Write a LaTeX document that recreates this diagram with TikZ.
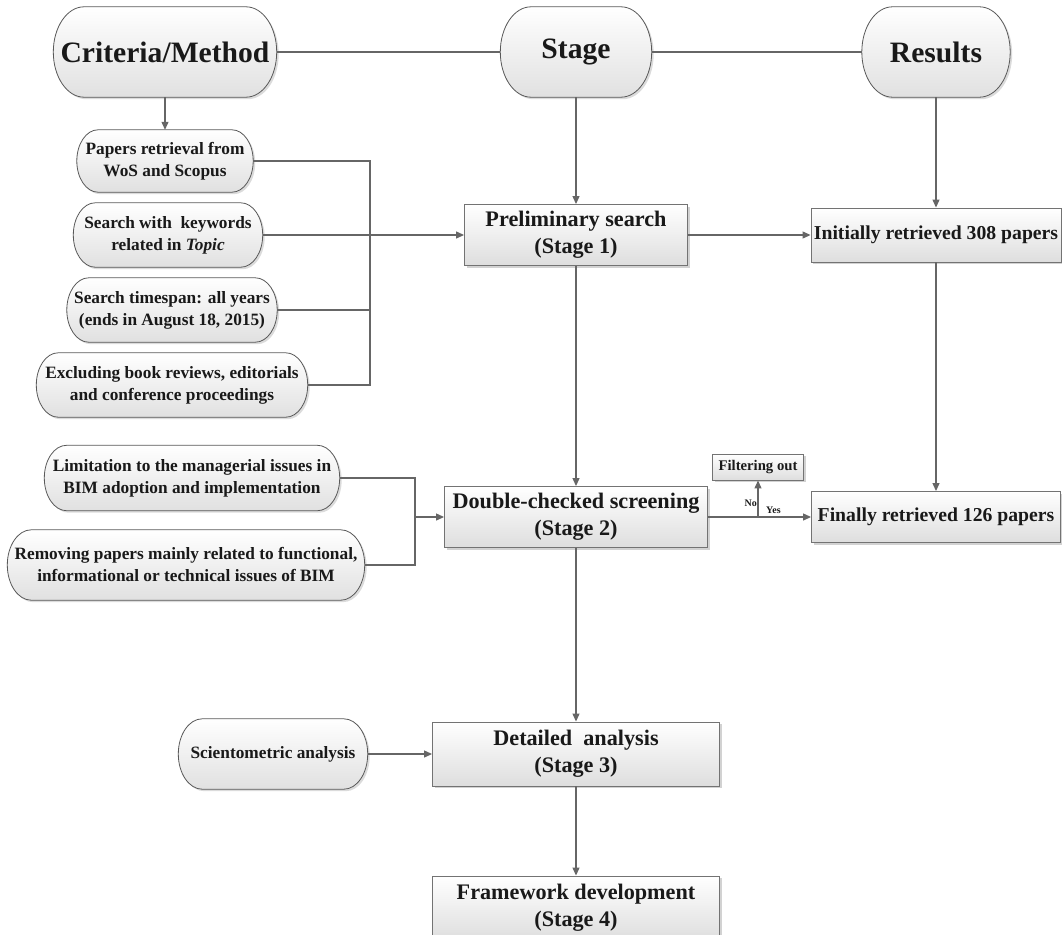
\documentclass[tikz,border=0pt]{standalone}
\usepackage{fontspec}
\setmainfont{Liberation Serif}
\usetikzlibrary{arrows.meta,calc,shadows,backgrounds,positioning}

\newcommand\fHead{\fontsize{29.6}{34}\selectfont\bfseries}
\newcommand\fStage{\fontsize{22.2}{27}\selectfont\bfseries}
\newcommand\fRes{\fontsize{19.7}{24}\selectfont\bfseries}
\newcommand\fCrit{\fontsize{17.3}{22}\selectfont\bfseries}
\newcommand\fFilt{\fontsize{14.7}{17}\selectfont\bfseries}
\newcommand\fTag{\fontsize{10}{12}\selectfont\bfseries}

\tikzset{
  box/.style={draw=black!55, line width=0.9pt, top color=white, bottom color=black!13,
    drop shadow={shadow xshift=2pt, shadow yshift=-2pt, fill=black!35, opacity=0.5},
    align=center, text=black!90, inner sep=1pt},
  pill/.style={align=center, text=black!90, inner xsep=0pt, inner ysep=1pt, font=\fCrit},
  pillbg/.style={draw=black!65, line width=0.8pt, top color=white, bottom color=black!12,
    drop shadow={shadow xshift=2pt, shadow yshift=-2pt, fill=black!35, opacity=0.4}},
  link/.style={draw=black!60, line width=1.2pt},
  arr/.style={link, -{Triangle[length=8pt,width=7pt]}},
  tag/.style={font=\fTag, text=black!90, inner sep=0pt}
}

% stadium outline behind a node (elliptic ends)
\newcommand\pillframe[1]{%
  \begin{pgfonlayer}{background}
  \path let \p1=(#1.north), \p2=(#1.south), \n1={(\y1-\y2)/2}, \n2={0.68*\n1} in
    [pillbg] ([xshift=\n2]#1.north west) -- ([xshift=-\n2]#1.north east)
    arc[start angle=90, end angle=-90, x radius=\n2, y radius=\n1]
    -- ([xshift=\n2]#1.south west)
    arc[start angle=270, end angle=90, x radius=\n2, y radius=\n1] -- cycle;
  \end{pgfonlayer}}

\begin{document}
\begin{tikzpicture}[x=1pt, y=1pt]
\useasboundingbox (0,0) rectangle (1062,-934);
\clip (0,0) rectangle (1062,-934);

% Column heads
\node[pill, font=\fHead, minimum width=223pt, minimum height=90pt] (crit) at (165,-52) {Criteria/Method};
\node[pill, font=\fHead, minimum width=151pt, minimum height=90pt] (stg) at (576,-52) {Stage};
\node[pill, font=\fHead, minimum width=148pt, minimum height=90pt] (res) at (936,-52) {Results};
\pillframe{crit}\pillframe{stg}\pillframe{res}

% Criteria for stage 1
\node[pill, minimum width=176pt, minimum height=62pt] (m1) at (165,-161) {Papers retrieval from\\WoS and Scopus};
\node[pill, minimum width=189pt, minimum height=64pt] (m2) at (168,-235) {Search with~ keywords\\related in \textit{Topic}};
\node[pill, minimum width=210pt, minimum height=64pt] (m3) at (172,-310) {Search timespan: all years\\(ends in August 18, 2015)};
\node[pill, minimum width=271pt, minimum height=64pt] (m4) at (172,-385) {Excluding book reviews, editorials\\and conference proceedings};
\pillframe{m1}\pillframe{m2}\pillframe{m3}\pillframe{m4}

% Criteria for stage 2 and 3
\node[pill, minimum width=295pt, minimum height=65pt] (m5) at (192,-478) {Limitation to the managerial issues in\\BIM adoption and implementation};
\node[pill, minimum width=357pt, minimum height=70pt] (m6) at (186,-565) {Removing papers mainly related to functional,\\informational or technical issues of BIM};
\node[pill, minimum width=189pt, minimum height=70pt] (sci) at (273,-754) {Scientometric analysis};
\pillframe{m5}\pillframe{m6}\pillframe{sci}

% Stages
\node[box, font=\fStage, minimum width=223pt, minimum height=61pt] (s1) at (576,-235) {Preliminary search\\(Stage 1)};
\node[box, font=\fStage, minimum width=263pt, minimum height=61pt] (s2) at (576,-517) {Double-checked screening\\(Stage 2)};
\node[box, font=\fStage, minimum width=287pt, minimum height=64pt] (s3) at (576,-754) {Detailed~ analysis\\(Stage 3)};
\node[box, font=\fStage, minimum width=287pt, minimum height=64pt] (s4) at (576,-908) {Framework development\\(Stage 4)};

% Results
\node[box, font=\fRes, minimum width=250pt, minimum height=54pt] (r1) at (936,-235) {Initially retrieved 308 papers};
\node[box, font=\fRes, minimum width=249pt, minimum height=51pt] (r2) at (936,-517) {Finally retrieved 126 papers};
\node[box, font=\fFilt, minimum width=91pt, minimum height=26pt] (filt) at (758,-467) {Filtering out};

% Head line and arrows
\draw[link] (crit) -- (stg);
\draw[link] (stg) -- (res);
\draw[arr] (crit) -- (m1);
\draw[arr] (stg) -- (s1);
\draw[arr] (res) -- (r1);

% Brackets into the stages
\coordinate (jA) at (370,-235);
\draw[link] (m1.east) -| (jA) |- (m4.east);
\draw[link] (m3.east) -- (m3.east -| jA);
\draw[arr] (m2.east) -- (s1.west);
\coordinate (jB) at (415,-517);
\draw[link] (m5.east) -| (jB) |- (m6.east);
\draw[arr] (jB) -- (s2.west);
\draw[arr] (sci) -- (s3);

% Flow
\draw[arr] (s1) -- (r1);
\draw[arr] (r1) -- (r2);
\draw[arr] (s1) -- (s2);
\draw[arr] (s2) -- (s3);
\draw[arr] (s3) -- (s4);
\draw[arr] (s2) -- (r2);
\coordinate (fork) at (758,-517);
\draw[arr] (fork) -- (filt);
\node[tag, above left=10pt and 1pt of fork] (no) {No};
\node[tag, above right=3pt and 8pt of fork] (yes) {Yes};
\end{tikzpicture}
\end{document}
